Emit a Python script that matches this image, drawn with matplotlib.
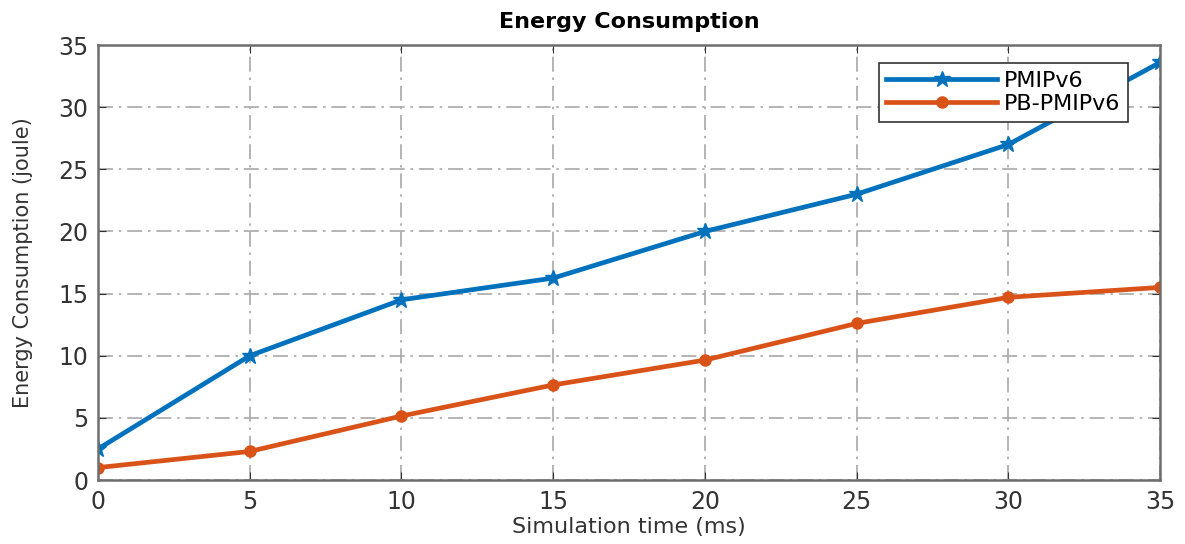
import matplotlib

matplotlib.use("Agg")
import matplotlib.pyplot as plt

# simulation time (ms) and energy per scheme (joule)
sim_time = [0, 5, 10, 15, 20, 25, 30, 35]
pmipv6 = [2.5, 10.0, 14.5, 16.25, 20.0, 23.0, 27.0, 33.6]
pb_pmipv6 = [1.0, 2.3, 5.15, 7.65, 9.65, 12.6, 14.7, 15.5]

x_ticks = [0, 5, 10, 15, 20, 25, 30, 35]
y_ticks = [0, 5, 10, 15, 20, 25, 30, 35]

plt.rcParams["font.family"] = ["DejaVu Sans"]

fig = plt.figure(figsize=(11.85, 5.44), dpi=100)
ax = fig.add_axes([0.0827, 0.1176, 0.8963, 0.7996])

ax.plot(sim_time, pmipv6, color="#0072BD", linewidth=3.4, marker="*",
        markersize=12, label="PMIPv6")
ax.plot(sim_time, pb_pmipv6, color="#D95319", linewidth=3.4, marker="o",
        markersize=8, label="PB-PMIPv6")

ax.set_xlim(0, 35)
ax.set_ylim(0, 35)
ax.set_xticks(x_ticks)
ax.set_yticks(y_ticks)
ax.tick_params(labelsize=17, colors="#333333", direction="in", length=6,
               top=True, right=True, pad=7)
for spine in ax.spines.values():
    spine.set_color("#6e6e6e")
    spine.set_linewidth(1.8)
ax.grid(True, linestyle=(0, (9, 3.5, 1.5, 3.5)), color="#a8a8a8",
        linewidth=1.2)

ax.set_title("Energy Consumption", fontsize=16, fontweight="bold", pad=12)
ax.set_xlabel("Simulation time (ms)", fontsize=16, color="#333333",
              labelpad=2)
ax.set_ylabel("Energy Consumption (joule)", fontsize=15, color="#333333",
              labelpad=18)

leg = ax.legend(loc="upper right", bbox_to_anchor=(0.970, 0.959), fontsize=16,
                handlelength=5.0, fancybox=False, framealpha=1, borderpad=0.35,
                labelspacing=0.15, handletextpad=0.3, borderaxespad=0)
leg.get_frame().set_edgecolor("#333333")
leg.get_frame().set_linewidth(1.2)

fig.savefig("out.png", dpi=100)
plt.close(fig)
